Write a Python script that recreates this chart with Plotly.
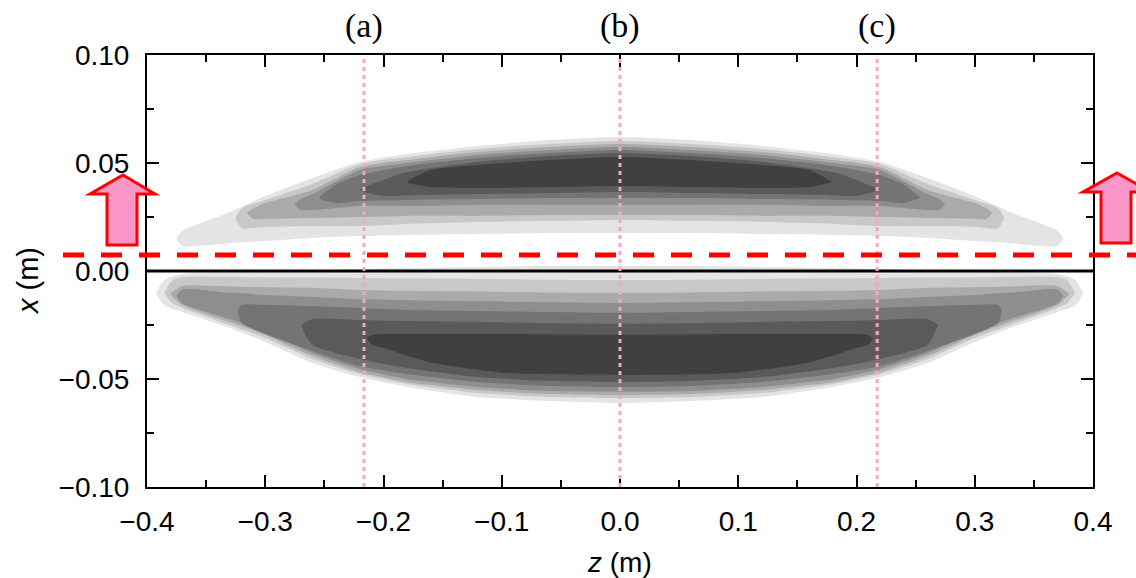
import plotly.graph_objects as go

# ---------------- data ----------------
# contour levels, light -> dark
level_colors = ['#e4e4e4', '#c8c8c8', '#aaaaaa', '#8e8e8e', '#747474', '#5a5a5a', '#404040']

# Upper lobe: half profiles (z from left tip to centre), region boundaries x (m)
up1_z   = [-0.375, -0.37, -0.33, -0.30, -0.26, -0.22, -0.18, -0.12, -0.06, 0.0]
up1_top = [0.0150, 0.0185, 0.0273, 0.0347, 0.0431, 0.0505, 0.0542, 0.0579, 0.0606, 0.0620]
up1_bot = [0.0150, 0.0116, 0.0130, 0.0139, 0.0153, 0.0162, 0.0167, 0.0171, 0.0176, 0.0176]

up2_z   = [-0.325, -0.32, -0.30, -0.26, -0.22, -0.18, -0.12, -0.06, 0.0]
up2_top = [0.0245, 0.0290, 0.0329, 0.0403, 0.0495, 0.0528, 0.0565, 0.0588, 0.0602]
up2_bot = [0.0245, 0.0199, 0.0204, 0.0208, 0.0208, 0.0218, 0.0227, 0.0231, 0.0236]

up3_z   = [-0.315, -0.31, -0.30, -0.26, -0.22, -0.18, -0.12, -0.06, 0.0]
up3_top = [0.0269, 0.0290, 0.0315, 0.0375, 0.0481, 0.0514, 0.0551, 0.0574, 0.0588]
up3_bot = [0.0269, 0.0241, 0.0241, 0.0245, 0.0250, 0.0255, 0.0255, 0.0259, 0.0259]

up4_z   = [-0.275, -0.27, -0.26, -0.22, -0.18, -0.12, -0.06, 0.0]
up4_top = [0.0310, 0.0333, 0.0356, 0.0468, 0.0500, 0.0537, 0.0560, 0.0574]
up4_bot = [0.0310, 0.0282, 0.0282, 0.0301, 0.0301, 0.0306, 0.0306, 0.0306]

up5_z   = [-0.254, -0.24, -0.22, -0.18, -0.12, -0.06, 0.0]
up5_top = [0.0338, 0.0400, 0.0444, 0.0486, 0.0523, 0.0546, 0.0560]
up5_bot = [0.0338, 0.0315, 0.0324, 0.0329, 0.0333, 0.0338, 0.0338]

up6_z   = [-0.22, -0.20, -0.18, -0.12, -0.06, 0.0]
up6_top = [0.0375, 0.0421, 0.0458, 0.0505, 0.0532, 0.0546]
up6_bot = [0.0375, 0.0347, 0.0350, 0.0356, 0.0361, 0.0366]

up7_z   = [-0.18, -0.16, -0.12, -0.06, 0.0]
up7_top = [0.0412, 0.0468, 0.0491, 0.0514, 0.0528]
up7_bot = [0.0412, 0.0389, 0.0384, 0.0389, 0.0394]

# Lower lobe
lo1_z   = [-0.392, -0.385, -0.37, -0.33, -0.30, -0.26, -0.22, -0.18, -0.12, -0.06, 0.0]
lo1_top = [-0.0102, -0.0040, -0.0014, -0.0005, -0.0005, 0.0000, 0.0009, 0.0014, 0.0019, 0.0023, 0.0023]
lo1_bot = [-0.0102, -0.0160, -0.0190, -0.0264, -0.0329, -0.0426, -0.0491, -0.0537, -0.0583, -0.0602, -0.0611]

lo2_z   = [-0.385, -0.378, -0.37, -0.33, -0.30, -0.26, -0.22, -0.18, -0.12, -0.06, 0.0]
lo2_top = [-0.0102, -0.0042, -0.0028, -0.0028, -0.0030, -0.0030, -0.0032, -0.0035, -0.0037, -0.0040, -0.0042]
lo2_bot = [-0.0102, -0.0150, -0.0171, -0.0250, -0.0310, -0.0407, -0.0477, -0.0523, -0.0565, -0.0583, -0.0588]

lo3_z   = [-0.38, -0.37, -0.33, -0.30, -0.26, -0.22, -0.18, -0.12, -0.06, 0.0]
lo3_top = [-0.0106, -0.0069, -0.0072, -0.0075, -0.0078, -0.0088, -0.0092, -0.0095, -0.0099, -0.0102]
lo3_bot = [-0.0106, -0.0157, -0.0236, -0.0296, -0.0394, -0.0468, -0.0514, -0.0551, -0.0569, -0.0574]

lo4_z   = [-0.375, -0.37, -0.33, -0.30, -0.26, -0.22, -0.18, -0.12, -0.06, 0.0]
lo4_top = [-0.0116, -0.0085, -0.0100, -0.0111, -0.0120, -0.0130, -0.0135, -0.0140, -0.0145, -0.0148]
lo4_bot = [-0.0116, -0.0150, -0.0222, -0.0282, -0.0380, -0.0454, -0.0500, -0.0537, -0.0556, -0.0560]

lo5_z   = [-0.323, -0.32, -0.30, -0.26, -0.22, -0.18, -0.12, -0.06, 0.0]
lo5_top = [-0.0180, -0.0157, -0.0157, -0.0162, -0.0171, -0.0180, -0.0185, -0.0190, -0.0194]
lo5_bot = [-0.0180, -0.0240, -0.0292, -0.0370, -0.0440, -0.0477, -0.0514, -0.0532, -0.0537]

lo6_z   = [-0.269, -0.26, -0.22, -0.18, -0.12, -0.06, 0.0]
lo6_top = [-0.0250, -0.0222, -0.0227, -0.0232, -0.0236, -0.0241, -0.0245]
lo6_bot = [-0.0250, -0.0343, -0.0407, -0.0449, -0.0491, -0.0509, -0.0514]

lo7_z   = [-0.214, -0.21, -0.20, -0.158, -0.096, 0.0]
lo7_top = [-0.0310, -0.0296, -0.0292, -0.0292, -0.0292, -0.0296]
lo7_bot = [-0.0310, -0.0340, -0.0356, -0.0426, -0.0472, -0.0481]

# section lines and labels
section_z = [-0.2165, 0.0, 0.2175]
section_labels = ['(a)', '(b)', '(c)']
dashed_x = 0.0074          # red dashed line level (m)

x_ticks = [-0.4, -0.3, -0.2, -0.1, 0.0, 0.1, 0.2, 0.3, 0.4]
y_ticks = [-0.10, -0.05, 0.00, 0.05, 0.10]

# ---------------- figure ----------------
W, H = 1136, 578
L, R, T, B = 147, 43, 55, 91
PW, PH = W - L - R, H - T - B


def px(x):
    return (x - L) / PW


def py(y):
    return (H - B - y) / PH


def region(zh, top, bot):
    z_full = list(zh) + [-v for v in reversed(zh[:-1])]
    t_full = list(top) + list(reversed(top[:-1]))
    b_full = list(bot) + list(reversed(bot[:-1]))
    xs = z_full + list(reversed(z_full))
    ys = t_full + list(reversed(b_full))
    return xs, ys


upper = [(up1_z, up1_top, up1_bot), (up2_z, up2_top, up2_bot), (up3_z, up3_top, up3_bot),
         (up4_z, up4_top, up4_bot), (up5_z, up5_top, up5_bot), (up6_z, up6_top, up6_bot),
         (up7_z, up7_top, up7_bot)]
lower = [(lo1_z, lo1_top, lo1_bot), (lo2_z, lo2_top, lo2_bot), (lo3_z, lo3_top, lo3_bot),
         (lo4_z, lo4_top, lo4_bot), (lo5_z, lo5_top, lo5_bot), (lo6_z, lo6_top, lo6_bot),
         (lo7_z, lo7_top, lo7_bot)]

fig = go.Figure()
for lobe in (upper, lower):
    for (zh, top, bot), col in zip(lobe, level_colors):
        xs, ys = region(zh, top, bot)
        fig.add_trace(go.Scatter(x=xs, y=ys, mode='lines', fill='toself', fillcolor=col,
                                 line=dict(width=0, color=col, shape='spline', smoothing=0.6),
                                 hoverinfo='skip', showlegend=False))

shapes = []
# zero line
shapes.append(dict(type='line', xref='x', yref='y', x0=-0.4, x1=0.4, y0=0, y1=0,
                   line=dict(color='black', width=3)))
# section lines
for zc in section_z:
    shapes.append(dict(type='line', xref='x', yref='y', x0=zc, x1=zc, y0=-0.1, y1=0.1,
                       line=dict(color='#f9a0cc', width=3, dash='4px,4px')))
# red dashed line, extending outside the plot
yd = (dashed_x - (-0.1)) / 0.2
shapes.append(dict(type='line', xref='paper', yref='paper', x0=px(63), x1=px(1140), y0=yd, y1=yd,
                   line=dict(color='#ff0000', width=5, dash='21px,17px')))


def arrow(pts):
    s = 'M ' + ' L '.join('%.5f,%.5f' % (px(a), py(b)) for a, b in pts) + ' Z'
    return dict(type='path', xref='paper', yref='paper', path=s,
                fillcolor='#fa96c8', line=dict(color='#ff0000', width=3))


shapes.append(arrow([(123, 175), (155, 194), (137, 194), (137, 245), (107, 245), (107, 194), (90, 194)]))
shapes.append(arrow([(1117, 173), (1151, 192), (1131, 192), (1131, 243), (1101, 243), (1101, 192), (1083, 192)]))

annotations = []
for zc, lab in zip(section_z, section_labels):
    annotations.append(dict(x=zc, y=py(26), xref='x', yref='paper', text=lab, showarrow=False,
                            xanchor='center', yanchor='middle',
                            font=dict(family='Liberation Serif', size=34, color='black')))
annotations.append(dict(x=px(619), y=py(562), xref='paper', yref='paper', text='<i>z</i> (m)',
                        showarrow=False, xanchor='center', yanchor='middle',
                        font=dict(family='Liberation Sans', size=28, color='black')))
annotations.append(dict(x=px(28), y=py(281), xref='paper', yref='paper', text='<i>x</i> (m)',
                        showarrow=False, xanchor='center', yanchor='middle', textangle=-90,
                        font=dict(family='Liberation Sans', size=29, color='black')))

axis_common = dict(showgrid=False, zeroline=False, ticks='inside', ticklen=12, tickwidth=2,
                   tickcolor='black', showline=True, linecolor='black', linewidth=2,
                   mirror='allticks', tickfont=dict(family='Liberation Sans', size=28, color='black'))

fig.update_layout(
    width=W, height=H,
    margin=dict(l=L, r=R, t=T, b=B, autoexpand=False),
    paper_bgcolor='white', plot_bgcolor='white',
    showlegend=False,
    xaxis=dict(range=[-0.4, 0.4], tickvals=x_ticks, tickformat='.1f', ticklabelstandoff=8,
               minor=dict(ticks='inside', ticklen=7, tickwidth=2, tickcolor='black', dtick=0.05, tick0=0),
               **axis_common),
    yaxis=dict(range=[-0.1, 0.1], tickvals=y_ticks, tickformat='.2f', ticklabelstandoff=10,
               minor=dict(ticks='inside', ticklen=7, tickwidth=2, tickcolor='black', dtick=0.025, tick0=0),
               **axis_common),
    shapes=shapes,
    annotations=annotations,
)

fig.write_html('out.html')
